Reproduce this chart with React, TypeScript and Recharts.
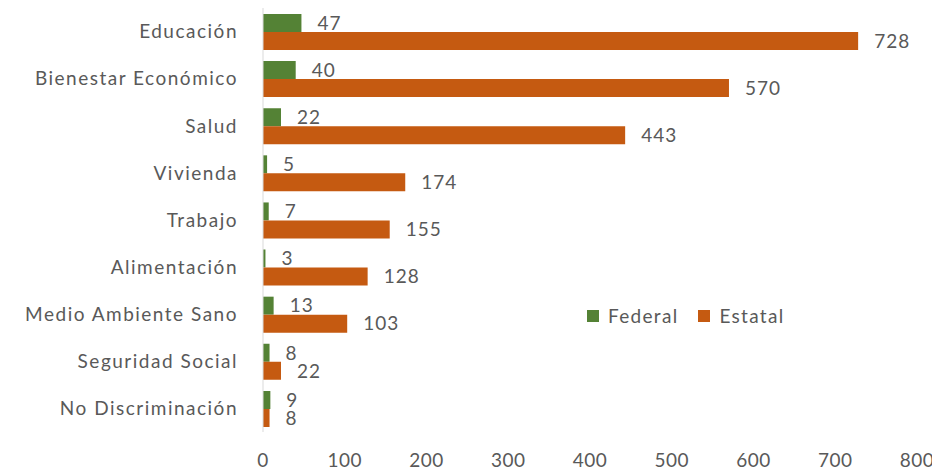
import React from 'react';
import { BarChart, Bar, XAxis, YAxis, Legend, LabelList } from 'recharts';

const categories = [
  'Educación',
  'Bienestar Económico',
  'Salud',
  'Vivienda',
  'Trabajo',
  'Alimentación',
  'Medio Ambiente Sano',
  'Seguridad Social',
  'No Discriminación',
];
const federal = [47, 40, 22, 5, 7, 3, 13, 8, 9];
const estatal = [728, 570, 443, 174, 155, 128, 103, 22, 8];
const xTicks = [0, 100, 200, 300, 400, 500, 600, 700, 800];
const seriesOrder = ['Federal', 'Estatal'];

const FONT = 'Lato, "Noto Sans", sans-serif';
const TEXT = '#595959';
const GREEN = '#548235';
const ORANGE = '#C55A11';

const data = categories.map((name, i) => ({ name, Federal: federal[i], Estatal: estatal[i] }));

const LegendContent = (props: any) => {
  const payload = [...(props.payload || [])].sort(
    (a: any, b: any) => seriesOrder.indexOf(a.value) - seriesOrder.indexOf(b.value)
  );
  return (
    <div style={{ display: 'flex', alignItems: 'center', fontFamily: FONT, fontSize: 19, letterSpacing: 1.3, lineHeight: '20px', color: TEXT, whiteSpace: 'nowrap' }}>
      {payload.map((p: any, i: number) => (
        <div key={i} style={{ display: 'flex', alignItems: 'center', marginRight: 20 }}>
          <span style={{ display: 'inline-block', width: 12, height: 12, background: p.color, marginRight: 9 }} />
          <span>{p.value}</span>
        </div>
      ))}
    </div>
  );
};

export default function App() {
  const numTick = { fill: TEXT, fontSize: 19, fontFamily: FONT, letterSpacing: 0.5 };
  const catTick = { fill: TEXT, fontSize: 19, fontFamily: FONT, letterSpacing: 1.5 };
  return (
    <BarChart
      width={932}
      height={464}
      data={data}
      layout="vertical"
      margin={{ top: 0, right: 23, bottom: 0, left: 0 }}
      barGap={0}
      barSize={18}
    >
      <XAxis
        type="number"
        domain={[0, 800]}
        ticks={xTicks}
        axisLine={false}
        tickLine={false}
        tickSize={0}
        tickMargin={22}
        height={40}
        tick={numTick}
      />
      <YAxis
        type="category"
        dataKey="name"
        width={255}
        axisLine={{ stroke: '#d9d9d9', strokeWidth: 1 }}
        tickLine={false}
        tickSize={0}
        tickMargin={25}
        interval={0}
        tick={catTick}
      />
      <Legend
        layout="horizontal"
        verticalAlign="middle"
        align="center"
        wrapperStyle={{ left: 579, top: 298, width: 'auto' }}
        content={LegendContent}
      />
      <Bar dataKey="Federal" fill={GREEN} isAnimationActive={false}>
        <LabelList dataKey="Federal" position="right" offset={16} fill={TEXT} fontSize={19} fontFamily={FONT} letterSpacing={1} />
      </Bar>
      <Bar dataKey="Estatal" fill={ORANGE} isAnimationActive={false}>
        <LabelList dataKey="Estatal" position="right" offset={16} fill={TEXT} fontSize={19} fontFamily={FONT} letterSpacing={1} />
      </Bar>
    </BarChart>
  );
}
